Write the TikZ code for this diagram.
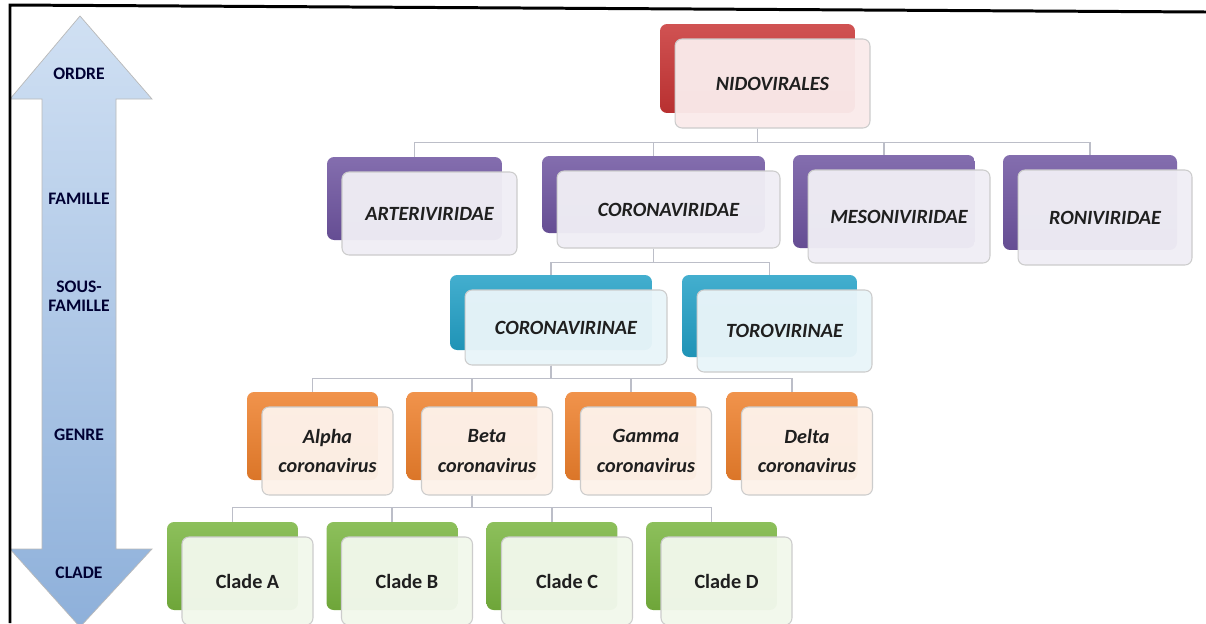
\documentclass[tikz,border=0pt]{standalone}
\usepackage{fontspec}
\setmainfont{Carlito}
\usepackage{xcolor}

\definecolor{redC}{RGB}{200,52,52}
\definecolor{purpleC}{RGB}{110,84,160}
\definecolor{tealC}{RGB}{34,160,198}
\definecolor{orangeC}{RGB}{238,128,44}
\definecolor{greenC}{RGB}{120,180,62}
\definecolor{arrTop}{RGB}{208,224,243}
\definecolor{arrBot}{RGB}{142,176,218}
\definecolor{linkC}{RGB}{188,190,200}

\begin{document}
\begin{tikzpicture}[x=0.02cm,y=-0.02cm,
	back/.style={rounded corners=4pt, top color=#1!85!white, bottom color=#1!92!black, draw=none, inner sep=0pt},
	front/.style={rounded corners=4pt, fill=#1!10!white, fill opacity=0.96, text opacity=1, draw=gray!40, line width=0.6pt, inner sep=1pt, align=center, text=black!88, font=\fontsize{11.5}{17}\selectfont\bfseries\itshape},
	upright/.style={font=\fontsize{11.5}{17}\selectfont\bfseries},
	sz/.style 2 args={minimum width=#1cm, minimum height=#2cm},
	rank/.style={align=center, text=black!80!blue, font=\fontsize{10}{11}\selectfont\bfseries},
	link/.style={draw=linkC, line width=0.6pt}]
\clip (0,0) rectangle (1206,623);
\fill[white] (0,0) rectangle (1206,623);

% scale arrow on the left
\draw[top color=arrTop, bottom color=arrBot, draw=gray!55, line width=0.4pt]
	(80,16) -- (152,99) -- (116,99) -- (116,549) -- (152,549) -- (80,627)
	-- (10,549) -- (42,549) -- (42,99) -- (10,99) -- cycle;
\node[rank] (ordre) at (79,74) {ORDRE};
\node[rank] (famille) at (79,199) {FAMILLE};
\node[rank] (sousfam) at (79,296) {SOUS-\\FAMILLE};
\node[rank] (genre) at (79,435) {GENRE};
\node[rank] (clade) at (79,573) {CLADE};

% order
\node[back=redC, sz={3.9}{1.78}] (nido-b) at (757.5,68.5) {};
\node[front=redC, sz={3.9}{1.78}] (nido) at ([shift={(15,15)}]nido-b) {NIDOVIRALES};

% families
\node[back=purpleC, sz={3.5}{1.66}] (arte-b) at (414.5,198.5) {};
\node[front=purpleC, sz={3.5}{1.66}] (arte) at ([shift={(15,15)}]arte-b) {ARTERIVIRIDAE};
\node[back=purpleC, sz={4.46}{1.54}] (corid-b) at (653.5,194.5) {};
\node[front=purpleC, sz={4.46}{1.54}] (corid) at ([shift={(15,15)}]corid-b) {CORONAVIRIDAE};
\node[back=purpleC, sz={3.64}{1.86}] (meso-b) at (884,201.5) {};
\node[front=purpleC, sz={3.64}{1.86}] (meso) at ([shift={(15,15)}]meso-b) {MESONIVIRIDAE};
\node[back=purpleC, sz={3.48}{1.9}] (roni-b) at (1090,202.5) {};
\node[front=purpleC, sz={3.48}{1.9}] (roni) at ([shift={(15,15)}]roni-b) {RONIVIRIDAE};

% sub-families
\node[back=tealC, sz={4.04}{1.5}] (corin-b) at (551,312.5) {};
\node[front=tealC, sz={4.04}{1.5}] (corin) at ([shift={(15,15)}]corin-b) {CORONAVIRINAE};
\node[back=tealC, sz={3.5}{1.64}] (toro-b) at (769.5,316) {};
\node[front=tealC, sz={3.5}{1.64}] (toro) at ([shift={(15,15)}]toro-b) {TOROVIRINAE};

% genera
\node[back=orangeC, sz={2.62}{1.76}] (alpha-b) at (312.5,436) {};
\node[front=orangeC, sz={2.62}{1.76}] (alpha) at ([shift={(15,15)}]alpha-b) {Alpha\\coronavirus};
\node[back=orangeC, sz={2.62}{1.76}] (beta-b) at (472,436) {};
\node[front=orangeC, sz={2.62}{1.76}] (beta) at ([shift={(15,15)}]beta-b) {Beta\\coronavirus};
\node[back=orangeC, sz={2.62}{1.76}] (gamma-b) at (631,436) {};
\node[front=orangeC, sz={2.62}{1.76}] (gamma) at ([shift={(15,15)}]gamma-b) {Gamma\\coronavirus};
\node[back=orangeC, sz={2.62}{1.76}] (delta-b) at (792,436) {};
\node[front=orangeC, sz={2.62}{1.76}] (delta) at ([shift={(15,15)}]delta-b) {Delta\\coronavirus};

% clades
\node[back=greenC, sz={2.62}{1.76}] (cla-b) at (232.5,566) {};
\node[front=greenC, upright, sz={2.62}{1.76}] (cla) at ([shift={(15,15)}]cla-b) {Clade A};
\node[back=greenC, sz={2.62}{1.76}] (clb-b) at (392,566) {};
\node[front=greenC, upright, sz={2.62}{1.76}] (clb) at ([shift={(15,15)}]clb-b) {Clade B};
\node[back=greenC, sz={2.62}{1.76}] (clc-b) at (552,566) {};
\node[front=greenC, upright, sz={2.62}{1.76}] (clc) at ([shift={(15,15)}]clc-b) {Clade C};
\node[back=greenC, sz={2.62}{1.76}] (cld-b) at (711.5,566) {};
\node[front=greenC, upright, sz={2.62}{1.76}] (cld) at ([shift={(15,15)}]cld-b) {Clade D};

% tree links
\foreach \kid in {arte,corid,meso,roni}
	\draw[link] (nido-b |- nido.south) -- ++(0,14) -| (\kid-b.north);
\foreach \kid in {corin,toro}
	\draw[link] (corid-b |- corid.south) -- ++(0,14) -| (\kid-b.north);
\foreach \kid in {alpha,beta,gamma,delta}
	\draw[link] (corin-b |- corin.south) -- ++(0,13) -| (\kid-b.north);
\foreach \kid in {cla,clb,clc,cld}
	\draw[link] (beta-b |- beta.south) -- ++(0,12) -| (\kid-b.north);

% frame
\draw[line width=1.7pt] (10,623) -- (10,5) -- (1206,12);
\end{tikzpicture}
\end{document}
